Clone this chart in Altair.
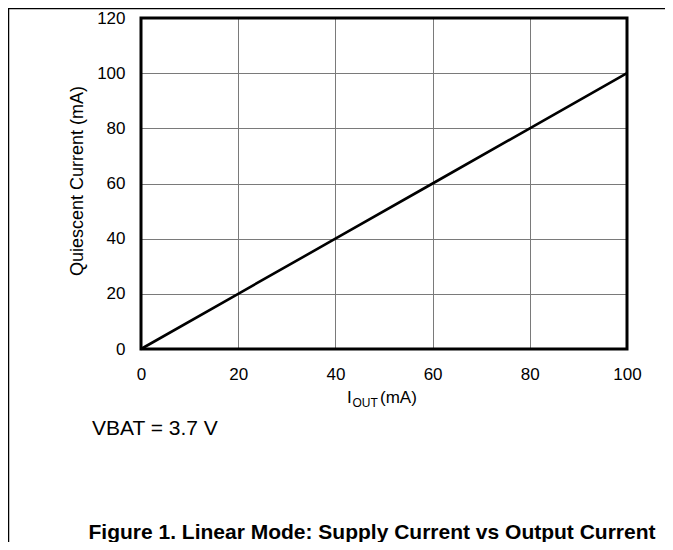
import altair as alt
import pandas as pd

# Data
iout = [0, 20, 40, 60, 80, 100]          # I_OUT (mA)
iq = [0, 20, 40, 60, 80, 100]            # Quiescent current (mA)
x_ticks = [0, 20, 40, 60, 80, 100]
y_ticks = [0, 20, 40, 60, 80, 100, 120]

df = pd.DataFrame({"iout": iout, "iq": iq})

FONT = "Liberation Sans"
W, H = 486, 331

xscale = alt.Scale(domain=[0, 100], nice=False, zero=False)
yscale = alt.Scale(domain=[0, 120], nice=False, zero=False)

line = alt.Chart(df).mark_line(color="black", strokeWidth=2.6).encode(
    x=alt.X("iout:Q", scale=xscale,
            axis=alt.Axis(values=x_ticks, title=None, grid=True, gridColor="#7a7a7a",
                          gridWidth=1, ticks=False, domain=False, labelFont=FONT,
                          labelFontSize=17, labelColor="black", labelPadding=17,
                          labelFlush=False)),
    y=alt.Y("iq:Q", scale=yscale,
            axis=alt.Axis(values=y_ticks, title=None, grid=True, gridColor="#7a7a7a",
                          gridWidth=1, ticks=False, domain=False, labelFont=FONT,
                          labelFontSize=17, labelColor="black", labelPadding=16,
                          labelFlush=False)),
)

border = alt.Chart(pd.DataFrame({"a": [0]})).mark_rect(
    fill=None, stroke="black", strokeWidth=3
).encode(x=alt.value(0), x2=alt.value(W), y=alt.value(0), y2=alt.value(H))

def txt(s, x, y, size, align="left", baseline="alphabetic", weight="normal", angle=0):
    return alt.Chart(pd.DataFrame({"t": [s]})).mark_text(
        font=FONT, fontSize=size, align=align, baseline=baseline, fontWeight=weight,
        color="black", angle=angle,
    ).encode(text="t:N", x=alt.value(x), y=alt.value(y))

ytitle = txt("Quiescent Current (mA)", -63, 163, 18, align="center", baseline="middle", angle=270)
xt_i = txt("I", 206, 385, 17)
xt_out = txt("OUT", 211.5, 389, 12)
xt_ma = txt("(mA)", 239, 385, 17)
vbat = txt("VBAT = 3.7 V", -49, 417, 21)
title = txt("Figure 1. Linear Mode: Supply Current vs Output Current", 231, 521, 21,
            align="center", weight="bold")

frame_top = alt.Chart(pd.DataFrame({"a": [0]})).mark_rule(color="black", strokeWidth=1.5).encode(
    x=alt.value(-133), x2=alt.value(W + 40), y=alt.value(-9.5))
frame_left = alt.Chart(pd.DataFrame({"a": [0]})).mark_rule(color="black", strokeWidth=1.5).encode(
    x=alt.value(-132.5), y=alt.value(-10), y2=alt.value(H + 200))

chart = alt.layer(frame_top, frame_left, line, border, ytitle, xt_i, xt_out, xt_ma, vbat, title).properties(
    width=W, height=H,
    autosize=alt.AutoSizeParams(type="none"),
    padding={"left": 133, "top": 10, "right": 38, "bottom": 193},
).configure_view(stroke=None).configure(background="white")

chart.save("out.html", embed_options={"renderer": "svg", "actions": False})
